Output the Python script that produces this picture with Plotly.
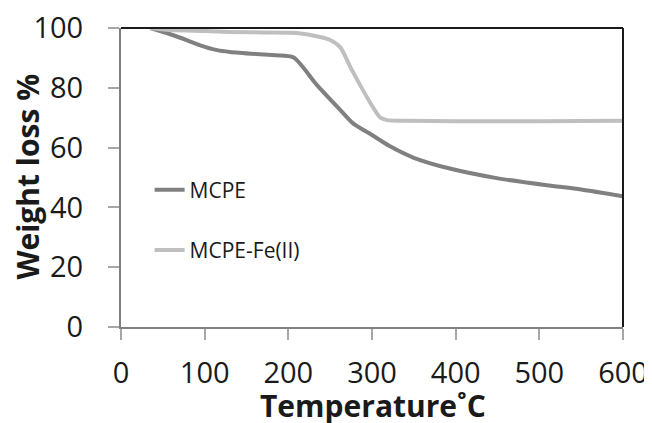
import plotly.graph_objects as go

mcpe_temp = [35, 58, 80, 94, 115, 130, 162, 185, 206, 234, 262, 277, 300, 321, 350, 393, 449, 509, 550, 600]
mcpe_weight = [100, 98, 95.8, 94.3, 92.6, 92, 91.3, 90.9, 90.2, 81, 72.6, 68.2, 64.2, 60.5, 56.6, 53, 49.8, 47.4, 46, 43.7]

fe_temp = [35, 60, 100, 130, 170, 210, 238, 250, 262, 274, 289, 300, 310, 318, 340, 400, 500, 600]
fe_weight = [100, 99.3, 99, 98.7, 98.5, 98.3, 97, 96, 93.6, 87, 79.3, 74, 70, 69.2, 69, 68.8, 68.8, 69]

x_ticks = [0, 100, 200, 300, 400, 500, 600]
y_ticks = [0, 20, 40, 60, 80, 100]

FONT = "Open Sans"
TXT = "#1a1a1a"

fig = go.Figure()
fig.add_trace(go.Scatter(x=mcpe_temp, y=mcpe_weight, mode="lines", name="MCPE",
                         line=dict(color="#808080", width=4, shape="spline", smoothing=0.7),
                         legend="legend"))
fig.add_trace(go.Scatter(x=fe_temp, y=fe_weight, mode="lines", name="MCPE-Fe(II)",
                         line=dict(color="#bfbfbf", width=4, shape="spline", smoothing=0.7),
                         legend="legend2"))

legend_common = dict(bgcolor="rgba(0,0,0,0)", font=dict(family=FONT, size=21, color=TXT),
                     xanchor="left", yanchor="middle", visible=True)

axis_common = dict(ticks="outside", ticklen=11, tickcolor="#a6a6a6", tickwidth=1.5,
                   showline=True, linecolor="#808080", linewidth=2, showgrid=False,
                   zeroline=False, tickfont=dict(family=FONT, size=29, color=TXT),
                   automargin=False, ticklabeloverflow="allow")

# page body has an 8px margin, so the figure is sized/margined to land the plot at the right place
fig.update_layout(
    width=644, height=415,
    margin=dict(l=113, r=29, t=20, b=96),
    paper_bgcolor="white", plot_bgcolor="white",
    font=dict(family=FONT, color=TXT),
    showlegend=True,
    legend=dict(x=0.057, y=0.458, **legend_common),
    legend2=dict(x=0.057, y=0.256, **legend_common),
    xaxis=dict(range=[0, 600], tickvals=x_ticks, ticklabelstandoff=8, **axis_common),
    yaxis=dict(range=[0, 100], tickvals=y_ticks, ticklabelstandoff=19, **axis_common),
)

fig.add_annotation(text="<b>Temperature˚C</b>", xref="paper", yref="paper",
                   x=0.502, y=-0.262, xanchor="center", yanchor="middle", showarrow=False,
                   font=dict(family=FONT, size=30, color=TXT))
fig.add_annotation(text="<b>Weight loss %</b>", xref="paper", yref="paper",
                   x=-0.186, y=0.502, xanchor="center", yanchor="middle", showarrow=False,
                   textangle=-90, font=dict(family=FONT, size=30, color=TXT))

fig.add_shape(type="line", xref="paper", yref="paper", x0=0, x1=1, y0=1, y1=1,
              line=dict(color=TXT, width=2))
fig.add_shape(type="line", xref="paper", yref="paper", x0=1, x1=1, y0=0, y1=1,
              line=dict(color=TXT, width=2))

fig.write_html("out.html")
